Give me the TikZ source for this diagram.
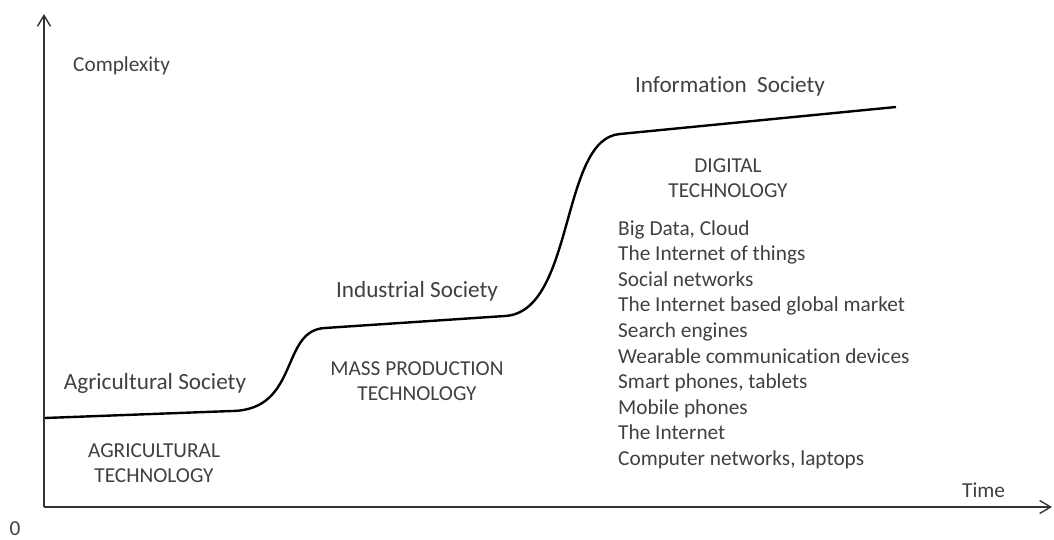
\documentclass[tikz,border=0pt]{standalone}
\usepackage{fontspec}
\setmainfont{Carlito}[Ligatures = NoCommon]
\usetikzlibrary{arrows.meta}

\begin{document}
\begin{tikzpicture}[x = 1pt, y = -1pt, > = {Straight Barb[length = 11pt, width = 13pt]},
	lbl/.style = {anchor = base, inner sep = 0pt, text = black!75, font = \fontsize{21.3}{25.6}\selectfont},
	society/.style = {lbl, font = \fontsize{23.2}{27}\selectfont},
	item/.style = {lbl, anchor = base west},
	axis/.style = {line width = 1.4pt, black!80},
	growth/.style = {line width = 2.4pt, black}]

\useasboundingbox (0, 0) rectangle (1054, 540);

% Axes

\coordinate (origin) at (44, 507);
\coordinate (ytip) at (44, 14);
\coordinate (xtip) at (1052, 507);
\draw [axis, ->] (origin) -- (ytip);
\draw [axis, ->] (origin) -- (xtip);

\node [item] (complexity) at (73, 72) {Complexity};
\node [item] (time) at (962, 497) {Time};
\node [lbl] (zero) at (15, 535) {0};

% Growth curve

\coordinate (agri0) at (45, 418);
\coordinate (agri1) at (232, 411);
\coordinate (ind0) at (325, 328);
\coordinate (ind1) at (505, 316);
\coordinate (info0) at (620, 134);
\coordinate (info1) at (896, 107);

\draw [growth] (agri0) -- (agri1)
	.. controls (300, 410) and (280, 330) .. (ind0) -- (ind1)
	.. controls (575, 312) and (560, 138) .. (info0) -- (info1);

% Societies

\node [society] (agrisoc) at (155, 389) {Agricultural Society};
\node [society] (indsoc) at (417, 297) {Industrial Society};
\node [society] (infosoc) at (730, 93) {Information\ \ Society};

% Technologies

\node [lbl] (agritech1) at (154, 457) {AGRICULTURAL};
\node [lbl] (agritech2) at (154, 482) {TECHNOLOGY};
\node [lbl] (masstech1) at (417, 375) {MASS PRODUCTION};
\node [lbl] (masstech2) at (417, 400) {TECHNOLOGY};
\node [lbl] (digitech1) at (728, 173) {DIGITAL};
\node [lbl] (digitech2) at (728, 197) {TECHNOLOGY};

% Digital items

\foreach \txt [count = \i] in {{Big Data, Cloud}, {The Internet of things}, {Social networks},
	{The Internet based global market}, {Search engines}, {Wearable communication devices},
	{Smart phones, tablets}, {Mobile phones}, {The Internet}, {Computer networks, laptops}}
	\node [item] (digi\i) at (618, 235 + 25.6*\i - 25.6) {\txt};

\end{tikzpicture}
\end{document}
